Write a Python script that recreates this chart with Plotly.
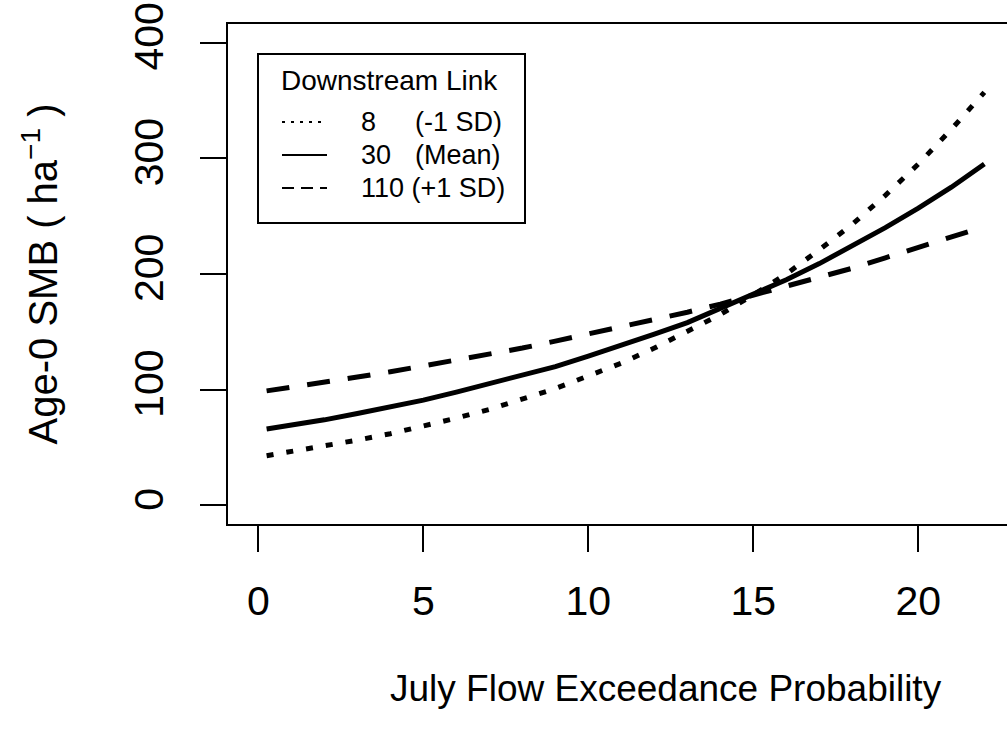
import plotly.graph_objects as go

# July flow exceedance probability (x) and predicted Age-0 SMB per ha
x_vals = [0.25, 1, 2, 3, 4, 5, 6, 7, 8, 9, 10, 11, 12, 13, 14, 15, 16, 17, 18, 19, 20, 21, 22]

link_8 = [43, 46.5, 51, 56.5, 62, 68.5, 75.5, 83, 92, 101, 112, 123, 136, 150, 165, 182,
          200, 221, 243, 268, 295, 325, 357]
link_30 = [66, 69, 74, 79.5, 85, 91, 98, 105, 112, 120, 129, 138, 148, 158, 170, 182,
           195, 209, 224, 240, 257, 275, 295]
link_110 = [99, 102, 106.5, 111, 115.5, 120.5, 125.5, 131, 136, 142, 148, 154, 160.5, 167,
            174, 181.5, 189, 197, 205, 214, 223, 232, 241]

legend_title = "Downstream Link"
legend_numbers = ["8", "30", "110"]
legend_labels = ["(-1 SD)", "(Mean)", "(+1 SD)"]
series_values = [link_8, link_30, link_110]
series_dash = ["7px,13px", "solid", "23px,18px"]
legend_dash = ["3px,6px", "solid", "12px,7px"]

x_ticks = [0, 5, 10, 15, 20]
y_ticks = [0, 100, 200, 300, 400]

FONT = "Liberation Sans, Arial, sans-serif"
W, H = 1007, 734
L, R, T, B = 228, 0, 24, 210
PW, PH = W - L - R, H - T - B


def px(xp):
    return (xp - L) / PW


def py(yp):
    return (H - B - yp) / PH


fig = go.Figure()
for name, lab, vals, dash in zip(legend_numbers, legend_labels, series_values, series_dash):
    fig.add_trace(go.Scatter(x=x_vals, y=vals, mode="lines", name=f"{name} {lab}",
                             line=dict(color="black", width=5, dash=dash), showlegend=False))

# Legend drawn in the R style (box, centred title, line samples, two text columns)
shapes = [dict(type="rect", xref="paper", yref="paper", x0=px(258), x1=px(525),
               y0=py(223), y1=py(54), line=dict(color="black", width=2),
               fillcolor="white", layer="above")]
annotations = [dict(text=legend_title, xref="paper", yref="paper", x=px(389), y=py(80),
                    xanchor="center", yanchor="middle", showarrow=False,
                    font=dict(size=28))]
row_y = [122, 155, 188]
for i in range(3):
    shapes.append(dict(type="line", xref="paper", yref="paper", x0=px(282), x1=px(327),
                       y0=py(row_y[i]), y1=py(row_y[i]), layer="above",
                       line=dict(color="black", width=2.2, dash=legend_dash[i])))
    if i < 2:
        annotations.append(dict(text=legend_numbers[i], xref="paper", yref="paper",
                                x=px(359), y=py(row_y[i]), xanchor="left", yanchor="middle",
                                showarrow=False, font=dict(size=27)))
        annotations.append(dict(text=legend_labels[i], xref="paper", yref="paper",
                                x=px(413), y=py(row_y[i]), xanchor="left",
                                yanchor="middle", showarrow=False, font=dict(size=27)))
    else:
        annotations.append(dict(text=legend_numbers[i] + " " + legend_labels[i],
                                xref="paper", yref="paper", x=px(359), y=py(row_y[i]),
                                xanchor="left", yanchor="middle", showarrow=False,
                                font=dict(size=27)))

annotations.append(dict(text="July Flow Exceedance Probability", xref="paper", yref="paper",
                        x=px(666), y=py(688), xanchor="center", yanchor="middle",
                        showarrow=False, font=dict(size=37)))

fig.update_layout(
    width=W, height=H,
    margin=dict(l=L, r=R, t=T, b=B, autoexpand=False),
    paper_bgcolor="white", plot_bgcolor="white",
    font=dict(family=FONT, color="black"),
    showlegend=False,
    xaxis=dict(
        range=[-0.92, 22.686], tickvals=x_ticks, ticks="outside", ticklen=26, tickwidth=2,
        tickcolor="black", showline=True, linewidth=2, linecolor="black", mirror=True,
        showgrid=False, zeroline=False, tickfont=dict(size=41), ticklabelstandoff=14,
    ),
    yaxis=dict(
        range=[-16, 416], tickvals=y_ticks, ticks="outside", ticklen=26, tickwidth=2,
        tickcolor="black", showline=True, linewidth=2, linecolor="black", mirror=False,
        showgrid=False, zeroline=False, tickfont=dict(size=41), tickangle=-90,
        ticklabelstandoff=21,
        title=dict(text="Age-0 SMB ( ha<sup>\u22121</sup> )", font=dict(size=40), standoff=56),
    ),
    shapes=shapes,
    annotations=annotations,
)

fig.write_html("out.html")
